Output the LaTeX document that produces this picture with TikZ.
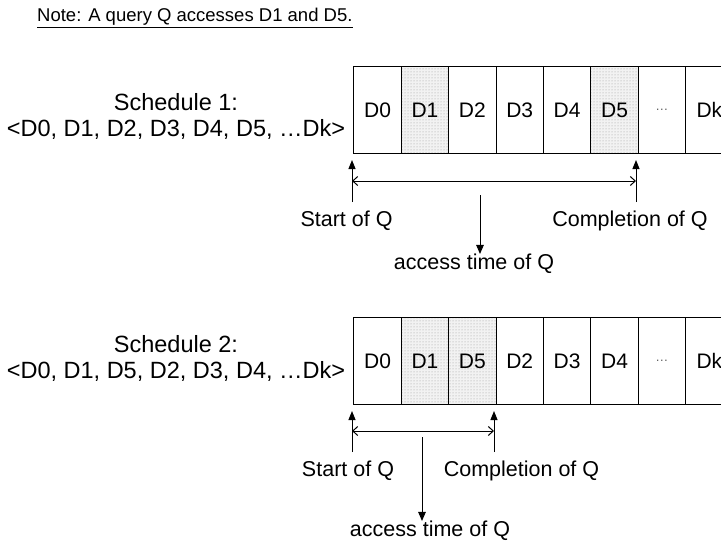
\documentclass[tikz,border=0pt]{standalone}
\usepackage{fontspec}
\setmainfont{Liberation Sans}
\usetikzlibrary{arrows.meta,patterns}

\tikzset{
  cell/.style={draw, line width=1.1pt, minimum width=47.4pt, minimum height=87pt,
    inner sep=0pt, anchor=north west, font=\fontsize{21}{21}\selectfont},
  hit/.style={cell, preaction={fill=gray!10}, pattern=dots, pattern color=gray!80},
  lbl/.style={inner sep=0pt, font=\fontsize{21.5}{24}\selectfont},
  schedlbl/.style={inner sep=0pt, align=center, font=\fontsize{23.5}{26}\selectfont},
  uparr/.style={line width=1pt, -{Triangle[length=9pt,width=7pt]}},
  span/.style={line width=1pt, {Straight Barb[length=5pt,width=9pt]}-{Straight Barb[length=5pt,width=9pt]}},
  downarr/.style={line width=1pt, -{Triangle[length=9pt,width=7.5pt]}},
  dotsmark/.style={font=\fontsize{13}{13}\selectfont, text=gray!75!black}
}

\begin{document}
\begin{tikzpicture}[x=1pt, y=-1pt]
  \useasboundingbox (0,0) rectangle (721,543);
  \clip (0,0) rectangle (721,543);

  % heading
  \node[inner sep=0pt, anchor=west, font=\fontsize{18.5}{19}\selectfont] (note) at (37,18)
    {\underline{Note: A query Q accesses D1 and D5.}};

  % ---------- schedule 1 ----------
  \node[schedlbl] (sched1) at (176,116)
    {Schedule 1:\\<D0, D1, D2, D3, D4, D5, …Dk>};

  \node[cell] (a0) at (353.3,66) {D0};
  \node[hit]  (a1) at (400.7,66) {D1};
  \node[cell] (a2) at (448.1,66) {D2};
  \node[cell] (a3) at (495.5,66) {D3};
  \node[cell] (a4) at (542.9,66) {D4};
  \node[hit]  (a5) at (590.3,66) {D5};
  \node[cell] (a6) at (637.7,66) {\tikz[baseline]\node[dotsmark,inner sep=0pt]{…};};
  \node[cell] (a7) at (685.1,66) {Dk};

  \coordinate (s1l) at (352,202);
  \coordinate (s1lt) at (352,160);
  \coordinate (s1r) at (636,202);
  \coordinate (s1rt) at (636,160);
  \coordinate (s1sa) at (352,181);
  \coordinate (s1sb) at (636,181);
  \coordinate (s1m) at (480,195);

  \draw[uparr] (s1l) -- (s1lt);
  \draw[uparr] (s1r) -- (s1rt);
  \draw[span] (s1sa) -- (s1sb);

  \node[lbl] (start1) at (346.5,221) {Start of Q};
  \node[lbl] (comp1) at (630,221) {Completion of Q};
  \node[lbl] (acc1) at (474,264) {access time of Q};
  \draw[downarr] (s1m) -- (s1m |- acc1.north);

  % ---------- schedule 2 ----------
  \node[schedlbl] (sched2) at (176,358)
    {Schedule 2:\\<D0, D1, D5, D2, D3, D4, …Dk>};

  \node[cell] (b0) at (353.3,317) {D0};
  \node[hit]  (b1) at (400.7,317) {D1};
  \node[hit]  (b2) at (448.1,317) {D5};
  \node[cell] (b3) at (495.5,317) {D2};
  \node[cell] (b4) at (542.9,317) {D3};
  \node[cell] (b5) at (590.3,317) {D4};
  \node[cell] (b6) at (637.7,317) {\tikz[baseline]\node[dotsmark,inner sep=0pt]{…};};
  \node[cell] (b7) at (685.1,317) {Dk};

  \coordinate (s2l) at (352,452);
  \coordinate (s2lt) at (352,411);
  \coordinate (s2r) at (494,452);
  \coordinate (s2rt) at (494,411);
  \coordinate (s2sa) at (352,431);
  \coordinate (s2sb) at (494,431);
  \coordinate (s2m) at (422,437);

  \draw[uparr] (s2l) -- (s2lt);
  \draw[uparr] (s2r) -- (s2rt);
  \draw[span] (s2sa) -- (s2sb);

  \node[lbl] (start2) at (348,471) {Start of Q};
  \node[lbl] (comp2) at (521.5,471) {Completion of Q};
  \node[lbl] (acc2) at (430,531) {access time of Q};
  \draw[downarr] (s2m) -- (s2m |- acc2.north);
\end{tikzpicture}
\end{document}
